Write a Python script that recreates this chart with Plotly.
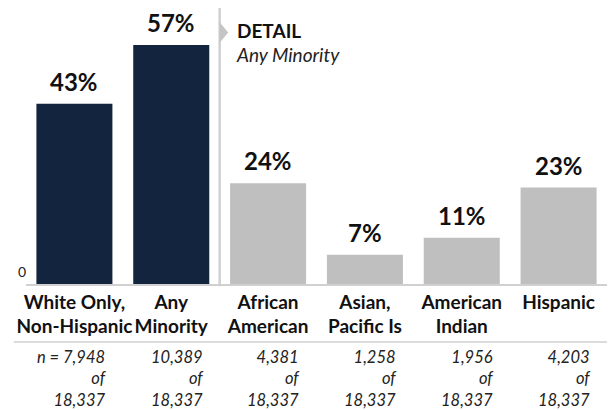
import plotly.graph_objects as go

categories = ["White Only,<br>Non-Hispanic", "Any<br>Minority", "African<br>American",
              "Asian,<br>Pacific Is", "American<br>Indian", "Hispanic<br> "]
values = [43, 57, 24, 7, 11, 23]
n_counts = ["7,948", "10,389", "4,381", "1,258", "1,956", "4,203"]
total = "18,337"
colors = ["#13243f", "#13243f", "#bfbfbf", "#bfbfbf", "#bfbfbf", "#bfbfbf"]

FONT = "Lato, 'Open Sans', sans-serif"
xs = list(range(len(categories)))

fig = go.Figure()
fig.add_trace(go.Bar(x=xs, y=values, marker=dict(color=colors, line=dict(width=0)),
                     hoverinfo="skip"))

annotations = []
for i, v in enumerate(values):
    annotations.append(dict(x=i, y=v, xref="x", yref="y", text=f"<b>{v}%</b>",
                            showarrow=False, yanchor="bottom", yshift=6,
                            font=dict(family=FONT, size=24, color="#111111")))
for i, n in enumerate(n_counts):
    prefix = "n = " if i == 0 else ""
    annotations.append(dict(x=i + 0.355, y=-0.3424, xref="x", yref="paper",
                            text=f"<i>{prefix}{n}<br>of<br>{total}</i>",
                            showarrow=False, xanchor="right", yanchor="middle", align="right",
                            font=dict(family=FONT, size=16.5, color="#222222")))
annotations.append(dict(x=0.003, y=0.047, xref="paper", yref="paper", text="0",
                        showarrow=False, xanchor="right", yanchor="middle",
                        font=dict(family=FONT, size=14, color="#222222")))
annotations.append(dict(x=1.66, y=0.917, xref="x", yref="paper", text="<b>DETAIL</b>",
                        showarrow=False, xanchor="left", yanchor="middle",
                        font=dict(family=FONT, size=19, color="#111111")))
annotations.append(dict(x=1.645, y=0.83, xref="x", yref="paper", text="<i>Any Minority</i>",
                        showarrow=False, xanchor="left", yanchor="middle",
                        font=dict(family=FONT, size=19, color="#222222")))

shapes = [
    dict(type="line", xref="x", yref="paper", x0=1.5, x1=1.5, y0=-0.008, y1=1.0,
         line=dict(color="#d0d0d0", width=2.5)),
    dict(type="path", xref="paper", yref="paper",
         path="M 0.333 0.949 L 0.348 0.911 L 0.333 0.873 Z",
         fillcolor="#c4c4c4", line=dict(width=0)),
    dict(type="line", xref="paper", yref="paper", x0=-0.021, x1=1.0, y0=-0.21, y1=-0.21,
         line=dict(color="#d0d0d0", width=1.5)),
]

# Page body has an 8px default margin: figure is sized so it fills the 616x410 window.
fig.update_layout(
    width=608, height=402,
    margin=dict(l=18, r=9, t=0, b=126),
    plot_bgcolor="white", paper_bgcolor="white",
    bargap=0.215,
    showlegend=False,
    annotations=annotations,
    shapes=shapes,
    xaxis=dict(tickvals=xs, ticktext=[f"<b>{c}</b>" for c in categories],
               range=[-0.5, 5.5], showline=True, linecolor="#d0d0d0", linewidth=1.5,
               ticks="", showgrid=False, zeroline=False, fixedrange=True, tickangle=0,
               tickfont=dict(family=FONT, size=19, color="#111111")),
    yaxis=dict(range=[0, 65.8], showticklabels=False, showgrid=False, zeroline=False,
               showline=False, ticks="", fixedrange=True),
)

fig.write_html("out.html")
